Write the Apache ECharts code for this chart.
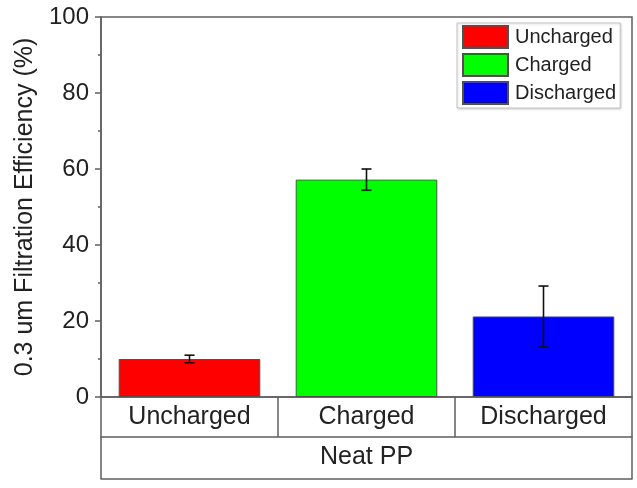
<!DOCTYPE html>
<html>
<head>
<meta charset="utf-8">
<script src="https://cdn.jsdelivr.net/npm/echarts@6/dist/echarts.min.js"></script>
<style>
  html, body { margin: 0; padding: 0; background: #fff; }
  #chart { width: 637px; height: 488px; }
</style>
</head>
<body>
<div id="chart"></div>
<script>
// Filtration efficiency of neat PP at 0.3 um, by charge state
const categories = ['Uncharged', 'Charged', 'Discharged'];
const groupLabel = ['Neat PP'];
const efficiency = [10.0, 57.2, 21.2];
const errors = [1.0, 2.8, 8.0];
const barColors = ['#ff0000', '#00ff00', '#0000ff'];
const yTicks = [0, 20, 40, 60, 80, 100];

const FONT = '"Liberation Sans", Arial, sans-serif';
const LINE = '#5f5f5f';
const TEXT = '#222222';

// one series per charge state so each gets its own legend entry
const barSeries = categories.map((name, i) => ({
  name: name,
  type: 'bar',
  xAxisIndex: 0,
  barWidth: '80%',
  barGap: '-100%',
  itemStyle: { color: barColors[i], borderColor: '#505050', borderWidth: 1 },
  data: categories.map((_, j) => (j === i ? efficiency[i] : '-'))
}));

// error bars: [categoryIndex, low, high]
const errorData = efficiency.map((v, i) => [i, v - errors[i], v + errors[i]]);

const errorSeries = {
  type: 'custom',
  xAxisIndex: 0,
  z: 10,
  silent: true,
  data: errorData,
  renderItem: function (params, api) {
    const x = api.value(0);
    const lo = api.coord([x, api.value(1)]);
    const hi = api.coord([x, api.value(2)]);
    const cap = 5;
    const style = { stroke: '#111', lineWidth: 1.6 };
    return {
      type: 'group',
      children: [
        { type: 'line', shape: { x1: hi[0], y1: hi[1], x2: lo[0], y2: lo[1] }, style: style },
        { type: 'line', shape: { x1: hi[0] - cap, y1: hi[1], x2: hi[0] + cap, y2: hi[1] }, style: style },
        { type: 'line', shape: { x1: lo[0] - cap, y1: lo[1], x2: lo[0] + cap, y2: lo[1] }, style: style }
      ]
    };
  }
};

const chart = echarts.init(document.getElementById('chart'), null, { renderer: 'canvas' });

chart.setOption({
  animation: false,
  backgroundColor: '#fff',
  textStyle: { fontFamily: FONT, color: TEXT },
  grid: {
    left: 101, right: 5, top: 17, bottom: 91,
    show: true, borderColor: LINE, borderWidth: 1.5, backgroundColor: 'transparent'
  },
  legend: {
    data: categories,
    orient: 'vertical',
    left: 457, top: 23,
    padding: [2, 4, 3, 5],
    itemWidth: 45, itemHeight: 22, itemGap: 4,
    backgroundColor: '#fff',
    borderColor: '#c4c4c4', borderWidth: 1,
    shadowColor: 'rgba(0,0,0,0.15)', shadowBlur: 2, shadowOffsetX: 1, shadowOffsetY: 1,
    icon: 'rect',
    textStyle: { fontFamily: FONT, fontSize: 20, color: TEXT, padding: [0, 0, 0, 2] }
  },
  xAxis: [
    {
      type: 'category',
      data: categories,
      position: 'bottom',
      axisLine: { show: true, lineStyle: { color: LINE, width: 1.5 } },
      axisTick: { show: true, length: 40, lineStyle: { color: LINE, width: 1.5 } },
      axisLabel: { fontFamily: FONT, fontSize: 25, color: TEXT, margin: 8 }
    },
    {
      type: 'category',
      data: groupLabel,
      position: 'bottom',
      offset: 40,
      axisLine: { show: true, lineStyle: { color: LINE, width: 1.5 } },
      axisTick: { show: true, length: 42, lineStyle: { color: LINE, width: 1.5 } },
      axisLabel: { fontFamily: FONT, fontSize: 25, color: TEXT, margin: 8 }
    },
    {
      type: 'category',
      data: [''],
      position: 'bottom',
      offset: 82,
      axisLine: { show: true, lineStyle: { color: LINE, width: 1.5 } },
      axisTick: { show: false },
      axisLabel: { show: false }
    }
  ],
  yAxis: {
    type: 'value',
    min: yTicks[0],
    max: yTicks[yTicks.length - 1],
    interval: yTicks[1] - yTicks[0],
    name: '0.3 um Filtration Efficiency (%)',
    nameLocation: 'middle',
    nameGap: 60,
    nameTextStyle: { fontFamily: FONT, fontSize: 25, color: TEXT },
    axisLine: { show: true, lineStyle: { color: LINE, width: 1.5 } },
    axisTick: { show: true, length: 6, lineStyle: { color: LINE, width: 1.5 } },
    minorTick: { show: true, splitNumber: 2, length: 3, lineStyle: { color: LINE, width: 1.5 } },
    splitLine: { show: false },
    axisLabel: { fontFamily: FONT, fontSize: 24, color: TEXT, margin: 12 }
  },
  series: barSeries.concat([errorSeries])
});
</script>
</body>
</html>
